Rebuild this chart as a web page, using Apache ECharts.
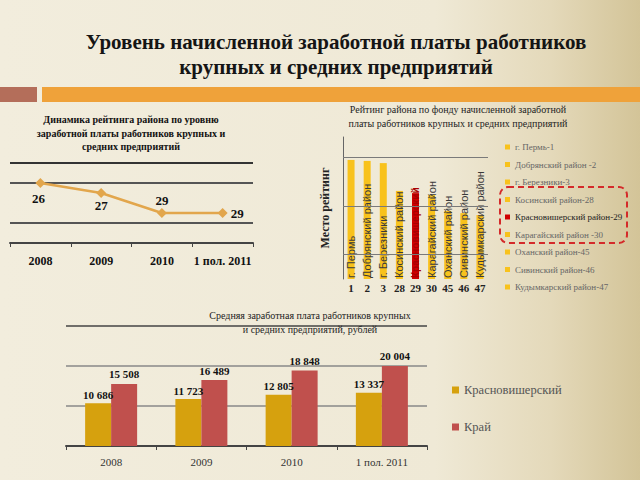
<!DOCTYPE html>
<html><head><meta charset="utf-8">
<script src="https://cdn.jsdelivr.net/npm/echarts@6/dist/echarts.min.js"></script>
<style>
html,body{margin:0;padding:0;}
#c{width:640px;height:480px;background:linear-gradient(90deg,#F2EDDD 0%,#EFE9D6 68%,#E4D9BA 86%,#D3C498 100%);}
</style>
</head><body><div id="c"></div>
<script>
// Chart 1: rating dynamics
const years = ['2008', '2009', '2010', '1 пол. 2011'];
const ratingValues = [26, 27, 29, 29];
// Chart 2: rating by payroll fund
const districts = ['г. Пермь', 'Добрянский район', 'г. Березники', 'Косинский район', 'Красновишерский', 'Карагайский район', 'Оханский район', 'Сивинский район', 'Кудымкарский район'];
const ranks = ['1', '2', '3', '28', '29', '30', '45', '46', '47'];
const rankBarHeights = [4.88, 4.84, 4.75, 3.61, 3.52, 3.44, 2.79, 2.70, 2.62];
const legendLabels = ['г. Пермь-1', 'Добрянский район -2', 'г. Березники-3', 'Косинский район-28', 'Красновишерский район-29', 'Карагайский район -30', 'Оханский район-45', 'Сивинский район-46', 'Кудымкарский район-47'];
// Chart 3: average salary
const salaryYears = ['2008', '2009', '2010', '1 пол. 2011'];
const salaryDistrict = [10686, 11723, 12805, 13337];
const salaryRegion = [15508, 16489, 18848, 20004];

const SERIF = "'Liberation Serif', serif";
const SANS = "'Liberation Sans', sans-serif";
const fmt = v => String(v).replace(/\B(?=(\d{3})+(?!\d))/g, ' ');

const chart = echarts.init(document.getElementById('c'), null, {renderer: 'svg'});

const labelPos = [
  {position: 'bottom', distance: 4, offset: [-2, 0]},
  {position: 'bottom', distance: 1},
  {position: 'top', distance: 1},
  {position: 'right', distance: 3}
];

const rankSeries = districts.map((d, i) => {
  const red = i === 4;
  const s = {
    type: 'bar', name: legendLabels[i], xAxisIndex: 1, yAxisIndex: 1, stack: 'rank',
    barWidth: 7,
    itemStyle: {color: red ? '#D00000' : '#F8C21C'},
    data: rankBarHeights.map((v, j) => j === i ? v : '-'),
    label: {
      show: true, position: 'insideBottom', rotate: 90, align: 'left', verticalAlign: 'middle',
      distance: 1, formatter: d, fontFamily: SANS, fontSize: red ? 10 : 11,
      color: red ? '#A80000' : '#3A3A3A', fontWeight: red ? 'bold' : 'normal'
    },
    silent: true, animation: false
  };
  if (i === 0) {
    s.markLine = {
      silent: true, symbol: 'none', label: {show: false},
      lineStyle: {color: '#7A7A7A', width: 1, type: 'solid'},
      data: [{yAxis: 1}, {yAxis: 3}, {yAxis: 5}]
    };
  }
  return s;
});

const titleBase = {textAlign: 'center', padding: 0, itemGap: 0};
const option = {
  animation: false,
  textStyle: {fontFamily: SERIF},
  title: [
    Object.assign({text: 'Уровень начисленной заработной платы работников\nкрупных и средних предприятий', left: 336, top: 29,
      textStyle: {fontFamily: SERIF, fontWeight: 'bold', fontSize: 21, lineHeight: 25, color: '#151515'}}, titleBase),
    Object.assign({text: 'Динамика рейтинга района по уровню\nзаработной платы работников крупных и\nсредних предприятий', left: 131, top: 113,
      textStyle: {fontFamily: SERIF, fontWeight: 'bold', fontSize: 10, lineHeight: 13.5, color: '#111'}}, titleBase),
    Object.assign({text: 'Рейтинг района по фонду начисленной заработной\nплаты работников крупных и средних предприятий', left: 458, top: 103,
      textStyle: {fontFamily: SERIF, fontWeight: 'normal', fontSize: 10, lineHeight: 13.5, color: '#222'}}, titleBase),
    Object.assign({text: 'Средняя заработная плата работников крупных\nи средних предприятий, рублей', left: 310, top: 308,
      textStyle: {fontFamily: SERIF, fontWeight: 'normal', fontSize: 10, lineHeight: 14, color: '#222'}}, titleBase)
  ],
  grid: [
    {left: 10, top: 163, width: 243, height: 80},
    {left: 343, top: 137, width: 145, height: 142},
    {left: 66, top: 326, width: 361, height: 120}
  ],
  xAxis: [
    {gridIndex: 0, type: 'category', data: years,
     axisLine: {lineStyle: {color: '#444', width: 2}},
     axisTick: {show: true, length: 4, lineStyle: {color: '#444'}},
     axisLabel: {interval: 0, fontFamily: SERIF, fontWeight: 'bold', fontSize: 12, color: '#111', margin: 12}},
    {gridIndex: 1, type: 'category', data: districts,
     axisLine: {show: false}, axisTick: {show: false},
     axisLabel: {formatter: (v, i) => ranks[i], fontFamily: SERIF, fontWeight: 'bold', fontSize: 11, color: '#222', margin: 3, interval: 0}},
    {gridIndex: 2, type: 'category', data: salaryYears,
     axisLine: {lineStyle: {color: '#444', width: 2}},
     axisTick: {show: true, length: 4, lineStyle: {color: '#444'}},
     axisLabel: {interval: 0, fontFamily: SERIF, fontSize: 11, color: '#333', margin: 10}}
  ],
  yAxis: [
    {gridIndex: 0, type: 'value', inverse: true, min: 24, max: 32, interval: 2,
     axisLabel: {show: false}, axisLine: {show: false}, axisTick: {show: false},
     splitLine: {lineStyle: {color: ['#333', '#555', 'rgba(0,0,0,0)', '#555', '#444'], width: 1.8}}},
    {gridIndex: 1, type: 'value', min: 0, max: 5.82,
     axisLabel: {show: false}, axisTick: {show: false}, splitLine: {show: false},
     axisLine: {show: true, lineStyle: {color: '#666', width: 1}},
     name: 'Место рейтинг', nameLocation: 'middle', nameRotate: 90, nameGap: 12,
     nameTextStyle: {fontFamily: SERIF, fontWeight: 'bold', fontSize: 12, color: '#222'}},
    {gridIndex: 2, type: 'value', min: 0, max: 30000, interval: 10000,
     axisLabel: {show: false}, axisLine: {show: false}, axisTick: {show: false},
     splitLine: {lineStyle: {color: ['#777', '#888', '#888', '#444'], width: 1.6}}}
  ],
  legend: [
    {data: legendLabels.map((n, i) => i === 4 ? {name: n, textStyle: {color: '#222', fontSize: 9}} : n),
     orient: 'vertical', left: 505, top: 141, itemGap: 5.5, icon: 'rect', itemWidth: 5, itemHeight: 5,
     selectedMode: false, padding: 0,
     textStyle: {fontFamily: SERIF, fontSize: 9, color: '#666', lineHeight: 12}},
    {data: ['Красновишерский', 'Край'], orient: 'vertical', left: 452, top: 383, itemGap: 23,
     icon: 'rect', itemWidth: 7, itemHeight: 7, selectedMode: false, padding: 0,
     textStyle: {fontFamily: SERIF, fontSize: 12.5, color: '#555', lineHeight: 14}}
  ],
  graphic: [
    {type: 'rect', shape: {x: 0, y: 87, width: 37, height: 15}, style: {fill: '#B46E5A'}, silent: true},
    {type: 'rect', shape: {x: 42, y: 87, width: 598, height: 15}, style: {fill: '#EFA23A'}, silent: true},
    {type: 'rect', shape: {x: 500, y: 187, width: 127, height: 56, r: 8}, style: {fill: 'none', stroke: '#D42A2A', lineWidth: 2, lineDash: [6, 4]}, silent: true, z: 10}
  ],
  series: [
    {type: 'line', xAxisIndex: 0, yAxisIndex: 0, name: 'rating',
     data: ratingValues.map((v, i) => ({value: v, label: labelPos[i]})),
     lineStyle: {color: '#E2A64C', width: 2.5}, itemStyle: {color: '#E2A64C'},
     symbol: 'diamond', symbolSize: 10,
     label: {show: true, fontFamily: SERIF, fontWeight: 'bold', fontSize: 13, color: '#111'}},
    ...rankSeries,
    {type: 'bar', name: 'Красновишерский', xAxisIndex: 2, yAxisIndex: 2, data: salaryDistrict,
     barWidth: 26, barGap: '0%', itemStyle: {color: '#D6A10E'},
     label: {show: true, position: 'top', distance: 3, formatter: p => fmt(p.value), fontFamily: SERIF, fontWeight: 'bold', fontSize: 11, color: '#111'}},
    {type: 'bar', name: 'Край', xAxisIndex: 2, yAxisIndex: 2, data: salaryRegion,
     barWidth: 26, barGap: '0%', itemStyle: {color: '#C0504D'},
     label: {show: true, position: 'top', distance: 4, formatter: p => fmt(p.value), fontFamily: SERIF, fontWeight: 'bold', fontSize: 11, color: '#111'}}
  ]
};
chart.setOption(option);
</script>
</body></html>
